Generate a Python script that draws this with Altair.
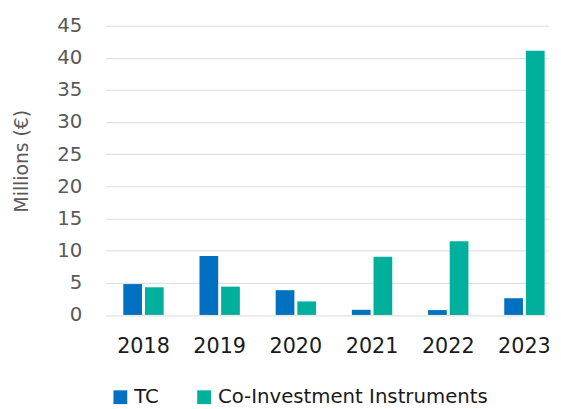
import altair as alt
import pandas as pd

years = ["2018", "2019", "2020", "2021", "2022", "2023"]
tc = [4.8, 9.15, 3.85, 0.8, 0.75, 2.6]
co = [4.3, 4.4, 2.1, 9.05, 11.45, 41.1]
series = ["TC", "Co-Investment Instruments"]
colors = ["#0070C0", "#00B09C"]
y_ticks = [0, 5, 10, 15, 20, 25, 30, 35, 40, 45]

rows = []
for i, yr in enumerate(years):
    rows.append({"year": yr, "series": series[0], "value": tc[i]})
    rows.append({"year": yr, "series": series[1], "value": co[i]})
df = pd.DataFrame(rows)

FONT = "DejaVu Sans"

chart = alt.Chart(df).mark_bar().encode(
    x=alt.X(
        "year:N",
        sort=years,
        scale=alt.Scale(paddingInner=0.47, paddingOuter=0.139, align=0.837),
        axis=alt.Axis(
            title=None, labelAngle=0, ticks=False, domain=False, grid=False,
            labelFontSize=21, labelColor="#1a1a1a", labelPadding=21, labelFont=FONT,
        ),
    ),
    xOffset=alt.XOffset(
        "series:N", sort=series, scale=alt.Scale(paddingInner=0.136, paddingOuter=0)
    ),
    y=alt.Y(
        "value:Q",
        scale=alt.Scale(domain=[0, 45], nice=False),
        axis=alt.Axis(
            values=y_ticks, title="Millions (€)", ticks=False, domain=False,
            grid=True, gridColor="#D9D9D9", gridWidth=1,
            labelFontSize=20, labelFont=FONT, labelColor="#595959", labelPadding=24,
            titleFont=FONT, titleFontSize=19, titleColor="#595959", titleFontWeight="normal",
            titleAngle=-90, titleX=-85, titleY=137, titleAlign="center", titleBaseline="middle",
        ),
    ),
    color=alt.Color(
        "series:N",
        sort=series,
        scale=alt.Scale(domain=series, range=colors),
        legend=alt.Legend(
            orient="none", direction="horizontal", legendX=5, legendY=367, title=None,
            symbolType="square", symbolSize=196, symbolStrokeWidth=0,
            labelFontSize=20, labelFont=FONT, labelColor="#1a1a1a", labelOffset=4,
            labelLimit=400, columnPadding=35, padding=0,
        ),
    ),
).properties(
    width=449,
    height=293.5,
    padding={"left": 99, "top": 15, "right": 5, "bottom": 91},
    autosize=alt.AutoSizeParams(type="none"),
).configure_view(stroke=None)

chart.save("out.html", embed_options={"renderer": "svg", "actions": False})
